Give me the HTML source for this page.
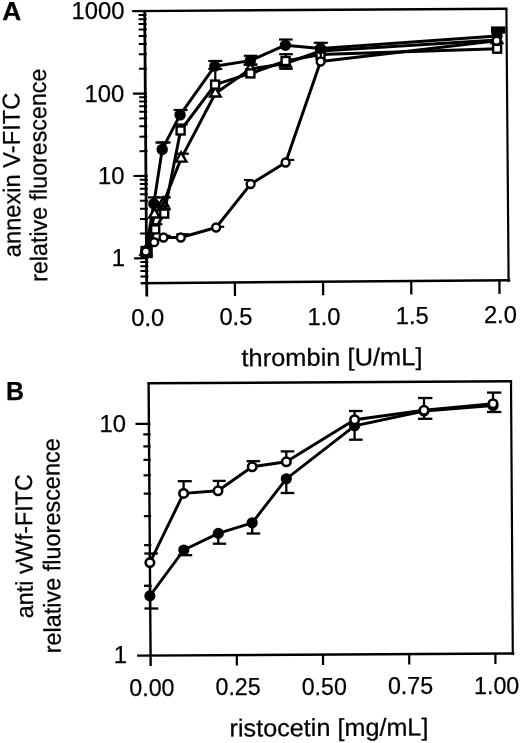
<!DOCTYPE html><html><head><meta charset="utf-8"><title>Figure</title><style>html,body{margin:0;padding:0;background:#fff}svg{display:block;filter:blur(0.4px)}text{font-family:"Liberation Sans",Arial,sans-serif;fill:#000;stroke:#000;stroke-width:0.25px}</style></head><body>
<svg width="520" height="743" viewBox="0 0 520 743">
<rect width="520" height="743" fill="#fff"/>
<line x1="132.20" y1="11.08" x2="507.50" y2="8.70" stroke="#000" stroke-width="2.4" stroke-linecap="butt"/>
<line x1="144.70" y1="10.40" x2="146.80" y2="296.40" stroke="#000" stroke-width="2.8" stroke-linecap="butt"/>
<line x1="506.40" y1="8.70" x2="508.60" y2="280.20" stroke="#000" stroke-width="2.2" stroke-linecap="butt"/>
<line x1="140.60" y1="283.15" x2="509.60" y2="280.20" stroke="#000" stroke-width="2.5" stroke-linecap="butt"/>
<circle cx="508.6" cy="280.2" r="1.7" fill="#000"/>
<line x1="140.45" y1="276.57" x2="148.45" y2="276.52" stroke="#000" stroke-width="2.0" stroke-linecap="butt"/>
<line x1="140.41" y1="271.06" x2="148.41" y2="271.01" stroke="#000" stroke-width="2.0" stroke-linecap="butt"/>
<line x1="140.38" y1="266.28" x2="148.38" y2="266.23" stroke="#000" stroke-width="2.0" stroke-linecap="butt"/>
<line x1="140.35" y1="262.07" x2="148.35" y2="262.02" stroke="#000" stroke-width="2.0" stroke-linecap="butt"/>
<line x1="134.12" y1="258.35" x2="148.22" y2="258.25" stroke="#000" stroke-width="2.2" stroke-linecap="butt"/>
<line x1="140.14" y1="233.51" x2="148.14" y2="233.46" stroke="#000" stroke-width="2.0" stroke-linecap="butt"/>
<line x1="140.03" y1="219.01" x2="148.03" y2="218.96" stroke="#000" stroke-width="2.0" stroke-linecap="butt"/>
<line x1="139.95" y1="208.72" x2="147.95" y2="208.67" stroke="#000" stroke-width="2.0" stroke-linecap="butt"/>
<line x1="139.89" y1="200.74" x2="147.89" y2="200.69" stroke="#000" stroke-width="2.0" stroke-linecap="butt"/>
<line x1="139.85" y1="194.22" x2="147.85" y2="194.17" stroke="#000" stroke-width="2.0" stroke-linecap="butt"/>
<line x1="139.81" y1="188.71" x2="147.81" y2="188.66" stroke="#000" stroke-width="2.0" stroke-linecap="butt"/>
<line x1="139.77" y1="183.93" x2="147.77" y2="183.88" stroke="#000" stroke-width="2.0" stroke-linecap="butt"/>
<line x1="139.74" y1="179.72" x2="147.74" y2="179.67" stroke="#000" stroke-width="2.0" stroke-linecap="butt"/>
<line x1="133.51" y1="176.00" x2="147.61" y2="175.90" stroke="#000" stroke-width="2.2" stroke-linecap="butt"/>
<line x1="139.53" y1="151.16" x2="147.53" y2="151.11" stroke="#000" stroke-width="2.0" stroke-linecap="butt"/>
<line x1="139.42" y1="136.66" x2="147.42" y2="136.61" stroke="#000" stroke-width="2.0" stroke-linecap="butt"/>
<line x1="139.35" y1="126.37" x2="147.35" y2="126.32" stroke="#000" stroke-width="2.0" stroke-linecap="butt"/>
<line x1="139.29" y1="118.39" x2="147.29" y2="118.34" stroke="#000" stroke-width="2.0" stroke-linecap="butt"/>
<line x1="139.24" y1="111.87" x2="147.24" y2="111.82" stroke="#000" stroke-width="2.0" stroke-linecap="butt"/>
<line x1="139.20" y1="106.36" x2="147.20" y2="106.31" stroke="#000" stroke-width="2.0" stroke-linecap="butt"/>
<line x1="139.17" y1="101.58" x2="147.17" y2="101.53" stroke="#000" stroke-width="2.0" stroke-linecap="butt"/>
<line x1="139.13" y1="97.37" x2="147.13" y2="97.32" stroke="#000" stroke-width="2.0" stroke-linecap="butt"/>
<line x1="132.91" y1="93.65" x2="147.01" y2="93.55" stroke="#000" stroke-width="2.2" stroke-linecap="butt"/>
<line x1="138.92" y1="68.81" x2="146.92" y2="68.76" stroke="#000" stroke-width="2.0" stroke-linecap="butt"/>
<line x1="138.82" y1="54.31" x2="146.82" y2="54.26" stroke="#000" stroke-width="2.0" stroke-linecap="butt"/>
<line x1="138.74" y1="44.02" x2="146.74" y2="43.97" stroke="#000" stroke-width="2.0" stroke-linecap="butt"/>
<line x1="138.68" y1="36.04" x2="146.68" y2="35.99" stroke="#000" stroke-width="2.0" stroke-linecap="butt"/>
<line x1="138.64" y1="29.52" x2="146.64" y2="29.47" stroke="#000" stroke-width="2.0" stroke-linecap="butt"/>
<line x1="138.60" y1="24.01" x2="146.60" y2="23.96" stroke="#000" stroke-width="2.0" stroke-linecap="butt"/>
<line x1="138.56" y1="19.23" x2="146.56" y2="19.18" stroke="#000" stroke-width="2.0" stroke-linecap="butt"/>
<line x1="138.53" y1="15.02" x2="146.53" y2="14.97" stroke="#000" stroke-width="2.0" stroke-linecap="butt"/>
<line x1="234.88" y1="282.39" x2="234.97" y2="295.99" stroke="#000" stroke-width="2.3" stroke-linecap="butt"/>
<line x1="323.05" y1="281.69" x2="323.15" y2="295.29" stroke="#000" stroke-width="2.3" stroke-linecap="butt"/>
<line x1="411.22" y1="280.98" x2="411.32" y2="294.58" stroke="#000" stroke-width="2.3" stroke-linecap="butt"/>
<line x1="499.40" y1="280.27" x2="499.50" y2="293.87" stroke="#000" stroke-width="2.3" stroke-linecap="butt"/>
<text x="124.4" y="19.3" font-size="24.1" font-weight="normal" text-anchor="end" textLength="53.0" lengthAdjust="spacingAndGlyphs">1000</text>
<text x="124.4" y="101.7" font-size="24.1" font-weight="normal" text-anchor="end" textLength="39.8" lengthAdjust="spacingAndGlyphs">100</text>
<text x="124.4" y="184.0" font-size="24.1" font-weight="normal" text-anchor="end" textLength="26.5" lengthAdjust="spacingAndGlyphs">10</text>
<text x="125.1" y="266.4" font-size="24.1" font-weight="normal" text-anchor="end" textLength="13.3" lengthAdjust="spacingAndGlyphs">1</text>
<text x="147.7" y="326.0" font-size="24.3" font-weight="normal" text-anchor="middle" textLength="33.0" lengthAdjust="spacingAndGlyphs">0.0</text>
<text x="235.9" y="325.4" font-size="24.3" font-weight="normal" text-anchor="middle" textLength="33.0" lengthAdjust="spacingAndGlyphs">0.5</text>
<text x="324.0" y="324.7" font-size="24.3" font-weight="normal" text-anchor="middle" textLength="33.0" lengthAdjust="spacingAndGlyphs">1.0</text>
<text x="412.2" y="324.1" font-size="24.3" font-weight="normal" text-anchor="middle" textLength="33.0" lengthAdjust="spacingAndGlyphs">1.5</text>
<text x="500.4" y="323.4" font-size="24.3" font-weight="normal" text-anchor="middle" textLength="33.0" lengthAdjust="spacingAndGlyphs">2.0</text>
<text x="241.5" y="366.3" font-size="24.6" font-weight="normal" text-anchor="start" textLength="181" lengthAdjust="spacingAndGlyphs" transform="rotate(-0.4 241.5 366.3)">thrombin [U/mL]</text>
<text x="2.2" y="20.2" font-size="26.5" font-weight="bold" text-anchor="start" textLength="19" lengthAdjust="spacingAndGlyphs">A</text>
<text transform="translate(20.6,257.2) scale(1.0,1) rotate(-90.4)" font-size="24.2" textLength="164.6" lengthAdjust="spacingAndGlyphs">annexin V-FITC</text>
<text transform="translate(47.3,281.8) scale(1.0,1) rotate(-90.4)" font-size="24.2" textLength="213.2" lengthAdjust="spacingAndGlyphs">relative fluorescence</text>
<polyline fill="none" stroke="#000" stroke-width="2.95" stroke-linejoin="round" points="145.80,251.60 154.50,214.50 163.20,203.50 181.10,158.60 215.30,93.50 250.40,69.00 285.50,63.50 320.50,51.00 497.00,40.00"/>
<polyline fill="none" stroke="#000" stroke-width="2.95" stroke-linejoin="round" points="145.80,251.60 155.20,229.40 164.20,213.60 180.60,130.50 215.10,84.60 250.40,73.40 285.60,61.00 320.50,54.50 497.10,48.70"/>
<polyline fill="none" stroke="#000" stroke-width="2.95" stroke-linejoin="round" points="145.80,251.60 153.80,203.80 162.20,149.40 180.10,114.90 214.80,66.20 250.30,60.60 285.40,45.20 320.50,48.50 497.00,36.00"/>
<polyline fill="none" stroke="#000" stroke-width="2.95" stroke-linejoin="round" points="145.80,251.60 154.20,242.20 163.50,237.50 180.80,237.50 216.10,227.50 250.60,184.10 285.60,162.50 320.60,61.50 496.60,40.80"/>
<line x1="162.20" y1="149.40" x2="162.20" y2="142.50" stroke="#000" stroke-width="2.2" stroke-linecap="butt"/>
<line x1="155.40" y1="142.50" x2="169.00" y2="142.50" stroke="#000" stroke-width="2.2" stroke-linecap="butt"/>
<line x1="157.00" y1="142.50" x2="170.60" y2="142.50" stroke="#000" stroke-width="2.2" stroke-linecap="butt"/>
<line x1="180.60" y1="114.90" x2="180.60" y2="110.00" stroke="#000" stroke-width="2.2" stroke-linecap="butt"/>
<line x1="173.60" y1="110.00" x2="187.60" y2="110.00" stroke="#000" stroke-width="2.2" stroke-linecap="butt"/>
<line x1="215.30" y1="66.20" x2="215.30" y2="61.00" stroke="#000" stroke-width="2.2" stroke-linecap="butt"/>
<line x1="208.30" y1="61.00" x2="222.30" y2="61.00" stroke="#000" stroke-width="2.2" stroke-linecap="butt"/>
<line x1="215.30" y1="66.20" x2="215.30" y2="69.00" stroke="#000" stroke-width="2.2" stroke-linecap="butt"/>
<line x1="208.30" y1="69.00" x2="222.30" y2="69.00" stroke="#000" stroke-width="2.2" stroke-linecap="butt"/>
<line x1="250.60" y1="60.60" x2="250.60" y2="55.80" stroke="#000" stroke-width="2.2" stroke-linecap="butt"/>
<line x1="243.80" y1="55.80" x2="257.40" y2="55.80" stroke="#000" stroke-width="2.2" stroke-linecap="butt"/>
<line x1="250.60" y1="60.60" x2="250.60" y2="64.60" stroke="#000" stroke-width="2.2" stroke-linecap="butt"/>
<line x1="243.80" y1="64.60" x2="257.40" y2="64.60" stroke="#000" stroke-width="2.2" stroke-linecap="butt"/>
<line x1="285.80" y1="45.20" x2="285.80" y2="39.50" stroke="#000" stroke-width="2.2" stroke-linecap="butt"/>
<line x1="279.00" y1="39.50" x2="292.60" y2="39.50" stroke="#000" stroke-width="2.2" stroke-linecap="butt"/>
<line x1="153.80" y1="203.80" x2="153.80" y2="197.40" stroke="#000" stroke-width="2.2" stroke-linecap="butt"/>
<line x1="147.80" y1="197.40" x2="159.80" y2="197.40" stroke="#000" stroke-width="2.2" stroke-linecap="butt"/>
<line x1="163.80" y1="203.50" x2="163.80" y2="197.40" stroke="#000" stroke-width="2.2" stroke-linecap="butt"/>
<line x1="156.80" y1="197.40" x2="170.80" y2="197.40" stroke="#000" stroke-width="2.2" stroke-linecap="butt"/>
<line x1="181.80" y1="158.60" x2="181.80" y2="153.70" stroke="#000" stroke-width="2.2" stroke-linecap="butt"/>
<line x1="174.80" y1="153.70" x2="188.80" y2="153.70" stroke="#000" stroke-width="2.2" stroke-linecap="butt"/>
<line x1="250.40" y1="69.00" x2="250.40" y2="64.60" stroke="#000" stroke-width="2.2" stroke-linecap="butt"/>
<line x1="243.60" y1="64.60" x2="257.20" y2="64.60" stroke="#000" stroke-width="2.2" stroke-linecap="butt"/>
<line x1="164.20" y1="213.60" x2="164.20" y2="209.20" stroke="#000" stroke-width="2.2" stroke-linecap="butt"/>
<line x1="157.60" y1="209.20" x2="170.80" y2="209.20" stroke="#000" stroke-width="2.2" stroke-linecap="butt"/>
<line x1="156.00" y1="229.40" x2="156.00" y2="224.20" stroke="#000" stroke-width="2.2" stroke-linecap="butt"/>
<line x1="149.60" y1="224.20" x2="162.40" y2="224.20" stroke="#000" stroke-width="2.2" stroke-linecap="butt"/>
<line x1="180.80" y1="130.50" x2="180.80" y2="124.50" stroke="#000" stroke-width="2.2" stroke-linecap="butt"/>
<line x1="174.00" y1="124.50" x2="187.60" y2="124.50" stroke="#000" stroke-width="2.2" stroke-linecap="butt"/>
<line x1="215.30" y1="84.60" x2="215.30" y2="72.00" stroke="#000" stroke-width="2.2" stroke-linecap="butt"/>
<line x1="286.00" y1="61.00" x2="286.00" y2="54.20" stroke="#000" stroke-width="2.2" stroke-linecap="butt"/>
<line x1="279.20" y1="54.20" x2="292.80" y2="54.20" stroke="#000" stroke-width="2.2" stroke-linecap="butt"/>
<line x1="286.00" y1="61.00" x2="286.00" y2="68.80" stroke="#000" stroke-width="2.2" stroke-linecap="butt"/>
<line x1="279.20" y1="68.80" x2="292.80" y2="68.80" stroke="#000" stroke-width="2.2" stroke-linecap="butt"/>
<polygon points="145.80,245.45 140.50,254.67 151.10,254.67" fill="#fff" stroke="#000" stroke-width="2.4" stroke-linejoin="miter"/>
<rect x="141.40" y="246.80" width="10.4" height="10.4" fill="#000" stroke="#000" stroke-width="2"/>
<circle cx="145.80" cy="251.60" r="4.8" fill="#000" stroke="#000" stroke-width="2"/>
<polygon points="154.50,208.35 149.20,217.57 159.80,217.57" fill="#fff" stroke="#000" stroke-width="2.4" stroke-linejoin="miter"/>
<polygon points="163.20,197.35 157.90,206.57 168.50,206.57" fill="none" stroke="#000" stroke-width="2.4" stroke-linejoin="miter"/>
<polygon points="181.10,152.45 175.80,161.67 186.40,161.67" fill="#fff" stroke="#000" stroke-width="2.4" stroke-linejoin="miter"/>
<polygon points="215.30,87.35 210.00,96.57 220.60,96.57" fill="#fff" stroke="#000" stroke-width="2.4" stroke-linejoin="miter"/>
<polygon points="250.40,62.85 245.10,72.07 255.70,72.07" fill="#fff" stroke="#000" stroke-width="2.4" stroke-linejoin="miter"/>
<polygon points="285.50,57.35 280.20,66.57 290.80,66.57" fill="#fff" stroke="#000" stroke-width="2.4" stroke-linejoin="miter"/>
<polygon points="320.50,44.85 315.20,54.07 325.80,54.07" fill="#fff" stroke="#000" stroke-width="2.4" stroke-linejoin="miter"/>
<polygon points="497.00,33.85 491.70,43.07 502.30,43.07" fill="#fff" stroke="#000" stroke-width="2.4" stroke-linejoin="miter"/>
<rect x="151.20" y="225.40" width="8" height="8" fill="#fff" stroke="#000" stroke-width="2.4"/>
<rect x="160.20" y="209.60" width="8" height="8" fill="#fff" stroke="#000" stroke-width="2.4"/>
<rect x="176.60" y="126.50" width="8" height="8" fill="#fff" stroke="#000" stroke-width="2.4"/>
<rect x="211.10" y="80.60" width="8" height="8" fill="#fff" stroke="#000" stroke-width="2.4"/>
<rect x="246.40" y="69.40" width="8" height="8" fill="#fff" stroke="#000" stroke-width="2.4"/>
<rect x="281.60" y="57.00" width="8" height="8" fill="#fff" stroke="#000" stroke-width="2.4"/>
<rect x="316.50" y="50.50" width="8" height="8" fill="#fff" stroke="#000" stroke-width="2.4"/>
<rect x="493.10" y="44.70" width="8" height="8" fill="#fff" stroke="#000" stroke-width="2.4"/>
<circle cx="153.80" cy="203.80" r="4.7" fill="#000" stroke="#000" stroke-width="2"/>
<circle cx="162.20" cy="149.40" r="4.7" fill="#000" stroke="#000" stroke-width="2"/>
<circle cx="180.10" cy="114.90" r="4.7" fill="#000" stroke="#000" stroke-width="2"/>
<circle cx="214.80" cy="66.20" r="4.7" fill="#000" stroke="#000" stroke-width="2"/>
<circle cx="250.30" cy="60.60" r="4.7" fill="#000" stroke="#000" stroke-width="2"/>
<circle cx="285.40" cy="45.20" r="4.7" fill="#000" stroke="#000" stroke-width="2"/>
<circle cx="320.50" cy="48.50" r="4.7" fill="#000" stroke="#000" stroke-width="2"/>
<circle cx="497.00" cy="36.00" r="4.7" fill="#000" stroke="#000" stroke-width="2"/>
<rect x="491" y="26.4" width="14.4" height="7.2" fill="#000"/>
<line x1="160.50" y1="235.80" x2="170.70" y2="235.80" stroke="#000" stroke-width="2.1" stroke-linecap="butt"/>
<line x1="176.30" y1="234.20" x2="188.80" y2="234.20" stroke="#000" stroke-width="2.1" stroke-linecap="butt"/>
<line x1="216.20" y1="226.80" x2="224.20" y2="226.80" stroke="#000" stroke-width="2.1" stroke-linecap="butt"/>
<line x1="244.00" y1="180.00" x2="252.50" y2="180.00" stroke="#000" stroke-width="2.1" stroke-linecap="butt"/>
<line x1="285.50" y1="159.90" x2="294.30" y2="159.90" stroke="#000" stroke-width="2.1" stroke-linecap="butt"/>
<line x1="320.80" y1="61.50" x2="320.80" y2="42.80" stroke="#000" stroke-width="2.2" stroke-linecap="butt"/>
<line x1="313.80" y1="42.80" x2="327.80" y2="42.80" stroke="#000" stroke-width="2.2" stroke-linecap="butt"/>
<circle cx="145.80" cy="251.60" r="3.95" fill="#fff" stroke="#000" stroke-width="2.4"/>
<circle cx="154.20" cy="242.20" r="3.95" fill="#fff" stroke="#000" stroke-width="2.4"/>
<circle cx="163.50" cy="237.50" r="3.95" fill="#fff" stroke="#000" stroke-width="2.4"/>
<circle cx="180.80" cy="237.50" r="3.95" fill="#fff" stroke="#000" stroke-width="2.4"/>
<circle cx="216.10" cy="227.50" r="3.95" fill="#fff" stroke="#000" stroke-width="2.4"/>
<circle cx="250.60" cy="184.10" r="3.95" fill="#fff" stroke="#000" stroke-width="2.4"/>
<circle cx="285.60" cy="162.50" r="3.95" fill="#fff" stroke="#000" stroke-width="2.4"/>
<circle cx="320.60" cy="61.50" r="3.95" fill="#fff" stroke="#000" stroke-width="2.4"/>
<circle cx="496.60" cy="40.80" r="3.95" fill="#fff" stroke="#000" stroke-width="2.4"/>
<line x1="147.40" y1="383.30" x2="512.10" y2="381.30" stroke="#000" stroke-width="2.4" stroke-linecap="butt"/>
<line x1="148.60" y1="383.30" x2="150.65" y2="665.90" stroke="#000" stroke-width="2.4" stroke-linecap="butt"/>
<line x1="511.00" y1="381.30" x2="512.80" y2="653.50" stroke="#000" stroke-width="2.2" stroke-linecap="butt"/>
<line x1="137.10" y1="655.60" x2="513.80" y2="653.50" stroke="#000" stroke-width="2.4" stroke-linecap="butt"/>
<circle cx="512.8" cy="653.5" r="1.7" fill="#000"/>
<line x1="144.39" y1="586.00" x2="151.69" y2="585.96" stroke="#000" stroke-width="2.2" stroke-linecap="butt"/>
<line x1="144.09" y1="545.15" x2="151.39" y2="545.11" stroke="#000" stroke-width="2.2" stroke-linecap="butt"/>
<line x1="143.88" y1="516.16" x2="151.18" y2="516.12" stroke="#000" stroke-width="2.2" stroke-linecap="butt"/>
<line x1="143.71" y1="493.68" x2="151.01" y2="493.64" stroke="#000" stroke-width="2.2" stroke-linecap="butt"/>
<line x1="143.58" y1="475.31" x2="150.88" y2="475.27" stroke="#000" stroke-width="2.2" stroke-linecap="butt"/>
<line x1="143.46" y1="459.78" x2="150.76" y2="459.74" stroke="#000" stroke-width="2.2" stroke-linecap="butt"/>
<line x1="143.36" y1="446.32" x2="150.66" y2="446.28" stroke="#000" stroke-width="2.2" stroke-linecap="butt"/>
<line x1="143.28" y1="434.46" x2="150.58" y2="434.42" stroke="#000" stroke-width="2.2" stroke-linecap="butt"/>
<line x1="135.50" y1="423.88" x2="150.50" y2="423.80" stroke="#000" stroke-width="2.2" stroke-linecap="butt"/>
<line x1="236.80" y1="655.02" x2="236.85" y2="665.42" stroke="#000" stroke-width="2.2" stroke-linecap="butt"/>
<line x1="323.00" y1="654.55" x2="323.05" y2="664.95" stroke="#000" stroke-width="2.2" stroke-linecap="butt"/>
<line x1="409.20" y1="654.07" x2="409.25" y2="664.47" stroke="#000" stroke-width="2.2" stroke-linecap="butt"/>
<line x1="495.40" y1="653.60" x2="495.45" y2="664.00" stroke="#000" stroke-width="2.2" stroke-linecap="butt"/>
<text x="126" y="432.3" font-size="24.1" font-weight="normal" text-anchor="end" textLength="26.5" lengthAdjust="spacingAndGlyphs">10</text>
<text x="127" y="663.2" font-size="24.1" font-weight="normal" text-anchor="end" textLength="13.3" lengthAdjust="spacingAndGlyphs">1</text>
<text x="151.9" y="695.6" font-size="24.4" font-weight="normal" text-anchor="middle" textLength="45.2" lengthAdjust="spacingAndGlyphs">0.00</text>
<text x="238.1" y="695.1" font-size="24.4" font-weight="normal" text-anchor="middle" textLength="45.2" lengthAdjust="spacingAndGlyphs">0.25</text>
<text x="324.3" y="694.6" font-size="24.4" font-weight="normal" text-anchor="middle" textLength="45.2" lengthAdjust="spacingAndGlyphs">0.50</text>
<text x="410.5" y="694.1" font-size="24.4" font-weight="normal" text-anchor="middle" textLength="45.2" lengthAdjust="spacingAndGlyphs">0.75</text>
<text x="496.7" y="693.6" font-size="24.4" font-weight="normal" text-anchor="middle" textLength="45.2" lengthAdjust="spacingAndGlyphs">1.00</text>
<text x="229.6" y="736.6" font-size="24.6" font-weight="normal" text-anchor="start" textLength="198.8" lengthAdjust="spacingAndGlyphs" transform="rotate(-0.35 229.6 736.6)">ristocetin [mg/mL]</text>
<text x="6.0" y="400.2" font-size="26.5" font-weight="bold" text-anchor="start" textLength="18.0" lengthAdjust="spacingAndGlyphs">B</text>
<text transform="translate(33,618.2) scale(1.0,1) rotate(-90.4)" font-size="24.2" textLength="144" lengthAdjust="spacingAndGlyphs">anti vWf-FITC</text>
<text transform="translate(60.8,653.3) scale(1.0,1) rotate(-90.4)" font-size="24.2" textLength="215" lengthAdjust="spacingAndGlyphs">relative fluorescence</text>
<polyline fill="none" stroke="#000" stroke-width="2.9" stroke-linejoin="round" points="149.90,595.90 183.80,550.00 218.30,533.40 252.20,522.80 286.30,478.80 354.60,425.80 424.00,411.00 493.00,405.60"/>
<polyline fill="none" stroke="#000" stroke-width="2.9" stroke-linejoin="round" points="149.90,562.60 183.60,493.40 218.00,490.80 252.20,466.80 286.30,461.80 354.60,419.70 424.00,410.30 493.00,403.70"/>
<line x1="149.90" y1="562.60" x2="149.90" y2="553.50" stroke="#000" stroke-width="2.3" stroke-linecap="butt"/>
<line x1="144.30" y1="553.50" x2="157.90" y2="553.50" stroke="#000" stroke-width="2.3" stroke-linecap="butt"/>
<line x1="183.60" y1="493.40" x2="183.60" y2="481.20" stroke="#000" stroke-width="2.3" stroke-linecap="butt"/>
<line x1="177.80" y1="481.20" x2="191.80" y2="481.20" stroke="#000" stroke-width="2.3" stroke-linecap="butt"/>
<line x1="218.00" y1="490.80" x2="218.00" y2="480.90" stroke="#000" stroke-width="2.3" stroke-linecap="butt"/>
<line x1="212.70" y1="480.90" x2="225.70" y2="480.90" stroke="#000" stroke-width="2.3" stroke-linecap="butt"/>
<line x1="252.20" y1="466.80" x2="252.20" y2="461.20" stroke="#000" stroke-width="2.3" stroke-linecap="butt"/>
<line x1="246.60" y1="461.20" x2="260.20" y2="461.20" stroke="#000" stroke-width="2.3" stroke-linecap="butt"/>
<line x1="286.30" y1="461.80" x2="286.30" y2="451.40" stroke="#000" stroke-width="2.3" stroke-linecap="butt"/>
<line x1="280.70" y1="451.40" x2="294.30" y2="451.40" stroke="#000" stroke-width="2.3" stroke-linecap="butt"/>
<line x1="354.60" y1="419.70" x2="354.60" y2="411.00" stroke="#000" stroke-width="2.3" stroke-linecap="butt"/>
<line x1="349.00" y1="411.00" x2="362.60" y2="411.00" stroke="#000" stroke-width="2.3" stroke-linecap="butt"/>
<line x1="424.00" y1="410.30" x2="424.00" y2="398.00" stroke="#000" stroke-width="2.3" stroke-linecap="butt"/>
<line x1="418.00" y1="398.00" x2="432.40" y2="398.00" stroke="#000" stroke-width="2.3" stroke-linecap="butt"/>
<line x1="424.00" y1="410.30" x2="424.00" y2="418.80" stroke="#000" stroke-width="2.3" stroke-linecap="butt"/>
<line x1="418.00" y1="418.80" x2="432.40" y2="418.80" stroke="#000" stroke-width="2.3" stroke-linecap="butt"/>
<line x1="493.00" y1="403.70" x2="493.00" y2="392.60" stroke="#000" stroke-width="2.3" stroke-linecap="butt"/>
<line x1="487.00" y1="392.60" x2="501.40" y2="392.60" stroke="#000" stroke-width="2.3" stroke-linecap="butt"/>
<line x1="493.00" y1="403.70" x2="493.00" y2="412.00" stroke="#000" stroke-width="2.3" stroke-linecap="butt"/>
<line x1="487.00" y1="412.00" x2="501.40" y2="412.00" stroke="#000" stroke-width="2.3" stroke-linecap="butt"/>
<line x1="144.00" y1="585.80" x2="151.00" y2="585.80" stroke="#000" stroke-width="2.3" stroke-linecap="butt"/>
<line x1="150.00" y1="585.80" x2="150.00" y2="608.50" stroke="#000" stroke-width="2.3" stroke-linecap="butt"/>
<line x1="144.40" y1="608.50" x2="158.30" y2="608.50" stroke="#000" stroke-width="2.3" stroke-linecap="butt"/>
<line x1="183.80" y1="550.00" x2="183.80" y2="555.20" stroke="#000" stroke-width="2.3" stroke-linecap="butt"/>
<line x1="177.80" y1="555.20" x2="192.20" y2="555.20" stroke="#000" stroke-width="2.3" stroke-linecap="butt"/>
<line x1="218.30" y1="533.40" x2="218.30" y2="543.70" stroke="#000" stroke-width="2.3" stroke-linecap="butt"/>
<line x1="212.80" y1="543.70" x2="226.20" y2="543.70" stroke="#000" stroke-width="2.3" stroke-linecap="butt"/>
<line x1="252.20" y1="522.80" x2="252.20" y2="533.50" stroke="#000" stroke-width="2.3" stroke-linecap="butt"/>
<line x1="246.60" y1="533.50" x2="260.20" y2="533.50" stroke="#000" stroke-width="2.3" stroke-linecap="butt"/>
<line x1="286.30" y1="478.80" x2="286.30" y2="493.00" stroke="#000" stroke-width="2.3" stroke-linecap="butt"/>
<line x1="280.70" y1="493.00" x2="294.30" y2="493.00" stroke="#000" stroke-width="2.3" stroke-linecap="butt"/>
<line x1="354.60" y1="425.80" x2="354.60" y2="439.70" stroke="#000" stroke-width="2.3" stroke-linecap="butt"/>
<line x1="349.00" y1="439.70" x2="362.60" y2="439.70" stroke="#000" stroke-width="2.3" stroke-linecap="butt"/>
<circle cx="149.90" cy="595.90" r="4.6" fill="#000" stroke="#000" stroke-width="2"/>
<circle cx="183.80" cy="550.00" r="4.6" fill="#000" stroke="#000" stroke-width="2"/>
<circle cx="218.30" cy="533.40" r="4.6" fill="#000" stroke="#000" stroke-width="2"/>
<circle cx="252.20" cy="522.80" r="4.6" fill="#000" stroke="#000" stroke-width="2"/>
<circle cx="286.30" cy="478.80" r="4.6" fill="#000" stroke="#000" stroke-width="2"/>
<circle cx="354.60" cy="425.80" r="4.6" fill="#000" stroke="#000" stroke-width="2"/>
<circle cx="424.00" cy="411.00" r="4.6" fill="#000" stroke="#000" stroke-width="2"/>
<circle cx="493.00" cy="405.60" r="4.6" fill="#000" stroke="#000" stroke-width="2"/>
<circle cx="149.90" cy="562.60" r="4.25" fill="#fff" stroke="#000" stroke-width="2.6"/>
<circle cx="183.60" cy="493.40" r="4.25" fill="#fff" stroke="#000" stroke-width="2.6"/>
<circle cx="218.00" cy="490.80" r="4.25" fill="#fff" stroke="#000" stroke-width="2.6"/>
<circle cx="252.20" cy="466.80" r="4.25" fill="#fff" stroke="#000" stroke-width="2.6"/>
<circle cx="286.30" cy="461.80" r="4.25" fill="#fff" stroke="#000" stroke-width="2.6"/>
<circle cx="354.60" cy="419.70" r="4.25" fill="#fff" stroke="#000" stroke-width="2.6"/>
<circle cx="424.00" cy="410.30" r="4.25" fill="#fff" stroke="#000" stroke-width="2.6"/>
<circle cx="493.00" cy="403.70" r="4.25" fill="#fff" stroke="#000" stroke-width="2.6"/>
</svg></body></html>
